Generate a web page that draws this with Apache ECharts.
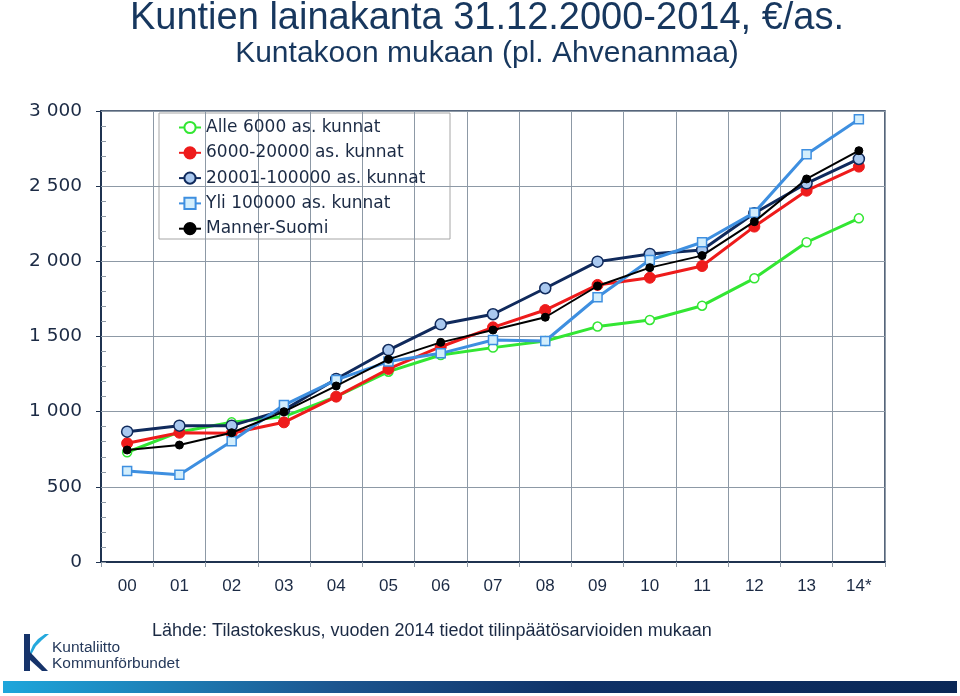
<!DOCTYPE html>
<html>
<head>
<meta charset="utf-8">
<script src="https://cdn.jsdelivr.net/npm/echarts@6/dist/echarts.min.js"></script>
<style>html,body{margin:0;padding:0;background:#fff}#c{width:960px;height:696px}</style>
</head>
<body>
<div id="c"></div>
<script>
// ---- data ----
const categories = ['00','01','02','03','04','05','06','07','08','09','10','11','12','13','14*'];
const seriesNames = ['Alle 6000 as. kunnat','6000-20000 as. kunnat','20001-100000 as. kunnat','Yli 100000 as. kunnat','Manner-Suomi'];
const alle6000 =   [730, 865, 929, 967, 1100, 1266, 1377, 1426, 1470, 1566, 1610, 1705, 1887, 2127, 2286];
const k6000_20000 = [790, 860, 856, 929, 1100, 1284, 1432, 1561, 1676, 1843, 1891, 1969, 2231, 2470, 2630];
const k20001_100000 = [867, 907, 907, 1010, 1217, 1410, 1581, 1648, 1821, 1998, 2049, 2075, 2320, 2519, 2681];
const yli100000 =  [605, 581, 803, 1044, 1211, 1333, 1388, 1477, 1470, 1761, 2009, 2127, 2324, 2712, 2945];
const mannerSuomi = [745, 778, 860, 1000, 1171, 1348, 1461, 1543, 1628, 1836, 1958, 2038, 2264, 2548, 2736];
const yMin = 0, yMax = 3000, yStep = 500, yMinorStep = 100;
const titleText = 'Kuntien lainakanta 31.12.2000-2014, €/as.';
const subtitleText = 'Kuntakoon mukaan (pl. Ahvenanmaa)';
const sourceText = 'Lähde: Tilastokeskus, vuoden 2014 tiedot tilinpäätösarvioiden mukaan';
const logoLines = ['Kuntaliitto', 'Kommunförbundet'];

const navyText = '#1b2a44';
const axisDark = '#1f3350';
const gridCol = '#8d99a6';

function fmt(v){ return String(v).replace(/\B(?=(\d{3})+(?!\d))/g, ' '); }

const chart = echarts.init(document.getElementById('c'), null, {renderer:'canvas'});

const styles = [
  {color:'#33e633', width:3, symbol:'circle', size:9, fill:'#ffffff', border:'#33e633', bw:1.5},
  {color:'#ee1b1b', width:3, symbol:'circle', size:11, fill:'#ee1b1b', border:'#ee1b1b', bw:1},
  {color:'#102a5c', width:3, symbol:'circle', size:11, fill:'#a9c8ef', border:'#102a5c', bw:1.5},
  {color:'#3e8fe0', width:3, symbol:'rect', size:9, fill:'#d3eefc', border:'#3e8fe0', bw:1.5},
  {color:'#000000', width:2, symbol:'circle', size:8, fill:'#000000', border:'#000000', bw:1}
];
const dataSets = [alle6000, k6000_20000, k20001_100000, yli100000, mannerSuomi];

const series = dataSets.map((d,i)=>({
  name: seriesNames[i],
  type:'line',
  data: d,
  symbol: styles[i].symbol,
  symbolSize: styles[i].size,
  showAllSymbol: true,
  lineStyle:{color:styles[i].color, width:styles[i].width},
  itemStyle:{color:styles[i].fill, borderColor:styles[i].border, borderWidth:styles[i].bw},
  emphasis:{disabled:true},
  animation:false,
  z: 2 + i
}));

chart.setOption({
  animation:false,
  backgroundColor:'#ffffff',
  grid:{left:101, right:75, top:111, bottom:134, show:true, borderColor:axisDark, borderWidth:1.5, backgroundColor:'transparent'},
  legend:{
    orient:'vertical', left:178, top:118.5, padding:0,
    itemWidth:22, itemHeight:14, itemGap:7.3,
    data: seriesNames,
    textStyle:{fontFamily:'DejaVu Sans', fontSize:17, color:navyText, lineHeight:18},
    selectedMode:false
  },
  xAxis:{
    type:'category', data:categories, boundaryGap:true,
    axisLine:{show:true, lineStyle:{color:axisDark, width:2}},
    axisTick:{show:true, length:5, lineStyle:{color:gridCol}},
    axisLabel:{margin:16, fontFamily:'Liberation Sans', fontSize:17, color:navyText},
    splitLine:{show:true, lineStyle:{color:gridCol, width:1}}
  },
  yAxis:[{
    type:'value', min:yMin, max:yMax, interval:yStep,
    axisLine:{show:true, lineStyle:{color:axisDark, width:2}},
    axisTick:{show:true, length:5, lineStyle:{color:axisDark}},
    axisLabel:{margin:19, fontFamily:'DejaVu Sans', fontSize:18.5, color:navyText, formatter:fmt},
    splitLine:{show:true, lineStyle:{color:gridCol, width:1}}
  },{
    type:'value', min:yMin, max:yMax, interval:yMinorStep, position:'left',
    axisLine:{show:false},
    axisTick:{show:true, inside:true, length:5, lineStyle:{color:gridCol}},
    axisLabel:{show:false},
    splitLine:{show:false}
  }],
  series: series,
  graphic:[
    {type:'rect', silent:true, shape:{x:159, y:113, width:291, height:126}, style:{fill:'#ffffff', stroke:'#a6a6a6', lineWidth:1}, z:0, zlevel:0},
    {type:'text', silent:true, style:{x:487, y:19, text:titleText, textAlign:'center', textVerticalAlign:'middle', font:'38px "Liberation Sans"', fill:'#17375e'}},
    {type:'text', silent:true, style:{x:487, y:54, text:subtitleText, textAlign:'center', textVerticalAlign:'middle', font:'30px "Liberation Sans"', fill:'#17375e'}},
    {type:'text', silent:true, style:{x:152, y:631, text:sourceText, textAlign:'left', textVerticalAlign:'middle', font:'18px "Liberation Sans"', fill:navyText}},
    {type:'text', silent:true, style:{x:52, y:648, text:logoLines[0], textAlign:'left', textVerticalAlign:'middle', font:'15.5px "Liberation Sans"', fill:'#24385a'}},
    {type:'text', silent:true, style:{x:52, y:664, text:logoLines[1], textAlign:'left', textVerticalAlign:'middle', font:'15.5px "Liberation Sans"', fill:'#24385a'}},
    {type:'rect', silent:true, shape:{x:24, y:634, width:6, height:37}, style:{fill:'#16336a'}},
    {type:'polygon', silent:true, shape:{points:[[30,652],[33,645],[38,639],[45,634],[49,634],[42,640],[36,646],[31,655]]}, style:{fill:'#25a9dd'}},
    {type:'polygon', silent:true, shape:{points:[[30,652],[48,671],[42,671],[30,660]]}, style:{fill:'#16336a'}},
    {type:'rect', silent:true, shape:{x:3, y:681, width:954, height:12},
      style:{fill:new echarts.graphic.LinearGradient(0,0,1,0,[{offset:0,color:'#1ea6db'},{offset:0.35,color:'#1c558f'},{offset:0.6,color:'#0f3167'},{offset:1,color:'#0b2857'}])}}
  ]
});
</script>
</body>
</html>
